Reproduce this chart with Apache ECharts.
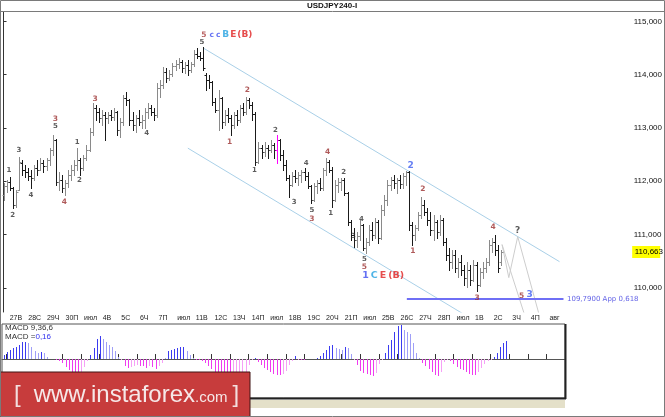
<!DOCTYPE html>
<html><head><meta charset="utf-8">
<script src="https://cdn.jsdelivr.net/npm/echarts@6/dist/echarts.min.js"></script>
<style>html,body{margin:0;padding:0;background:#fff}#c{width:665px;height:417px}</style>
</head><body><div id="c"></div>
<script>
// ---------- data ----------
const chartTitle = 'USDJPY240-I';
const dayLabels = ['27В','28С','29Ч','30П','июл','4В','5С','6Ч','7П','июл','11В','12С','13Ч','14П','июл','18В','19С','20Ч','21П','июл','25В','26С','27Ч','28П','июл','1В','2С','3Ч','4П','авг','8В'];
const priceTicks = [110, 111, 112, 113, 114, 115];
const lastPrice = 110.663;
// [open, close, low, high] per 4h bar
const bars = [
[111.74,111.91,111.65,111.97],[111.91,111.99,111.80,112.02],[111.99,111.87,111.84,112.08],[111.87,111.55,111.50,111.89],
[111.55,111.80,111.52,111.84],[111.84,112.36,111.84,112.45],[112.34,112.21,112.12,112.40],[112.21,112.17,112.08,112.30],
[112.17,112.10,112.02,112.25],[112.10,112.06,111.87,112.21],[112.06,112.25,112.02,112.30],[112.25,112.21,112.12,112.40],
[112.21,112.34,112.21,112.43],[112.34,112.29,112.17,112.40],[112.29,112.40,112.21,112.43],[112.40,112.58,112.30,112.62],
[112.58,112.77,112.49,112.87],[112.77,111.99,111.93,112.79],[111.99,112.02,111.84,112.17],[112.02,111.87,111.80,112.12],
[111.87,111.97,111.74,112.02],[111.97,112.12,111.89,112.21],[112.12,112.21,112.02,112.30],[112.21,112.30,112.12,112.40],
[112.30,112.40,112.21,112.62],[112.40,112.25,112.12,112.43],[112.25,112.43,112.21,112.49],[112.43,112.58,112.40,112.68],
[112.58,112.92,112.56,113.00],[112.92,113.37,112.87,113.47],[113.37,113.30,113.15,113.43],[113.30,113.18,113.11,113.37],
[113.18,113.24,113.05,113.33],[113.24,113.18,112.77,113.30],[113.18,113.24,113.09,113.30],[113.24,113.20,113.15,113.33],
[113.20,113.30,113.15,113.37],[113.30,112.96,112.87,113.32],[112.96,113.11,112.83,113.18],[113.11,113.56,113.05,113.61],
[113.56,113.52,113.43,113.67],[113.52,113.15,113.05,113.54],[113.15,113.05,112.96,113.30],[113.05,113.18,112.92,113.24],
[113.18,113.11,113.05,113.33],[113.11,113.15,113.00,113.24],[113.15,113.30,113.00,113.37],[113.30,113.37,113.18,113.47],
[113.37,113.30,113.24,113.43],[113.30,113.24,113.15,113.37],[113.24,113.75,113.20,113.84],[113.75,113.80,113.58,113.90],
[113.80,114.05,113.75,114.14],[114.05,113.93,113.86,114.12],[113.93,114.01,113.90,114.08],[114.01,114.16,113.97,114.21],
[114.16,114.20,114.08,114.27],[114.20,114.23,114.12,114.31],[114.23,114.12,114.05,114.27],[114.12,114.18,114.03,114.23],
[114.18,114.08,113.99,114.27],[114.08,114.20,114.05,114.23],[114.20,114.38,114.16,114.46],[114.38,114.35,114.31,114.50],
[114.35,114.31,114.27,114.42],[114.31,114.12,114.08,114.51],[113.99,113.90,113.71,114.03],[113.90,113.86,113.75,113.99],
[113.86,113.48,113.43,113.88],[113.48,113.33,113.30,113.56],[113.33,113.56,112.96,113.71],[113.56,113.11,113.00,113.58],
[113.11,113.24,113.05,113.33],[113.24,113.18,113.11,113.37],[113.18,113.05,112.87,113.24],[113.05,113.24,113.00,113.30],
[113.24,113.15,113.05,113.33],[113.15,113.37,113.11,113.43],[113.37,113.30,113.24,113.47],[113.30,113.52,113.26,113.58],
[113.52,113.43,113.37,113.56],[113.43,113.26,113.15,113.48],[113.26,112.36,112.30,113.30],[112.36,112.62,112.34,112.73],
[112.62,112.55,112.43,112.68],[112.55,112.62,112.47,112.73],[112.62,112.58,112.43,112.68],[112.58,112.68,112.55,112.77],
[112.68,112.58,112.43,112.72],[112.58,112.77,112.34,112.87],[112.77,112.49,112.40,112.79],[112.49,112.30,112.21,112.58],
[112.30,112.06,112.02,112.40],[112.06,111.93,111.70,112.12],[111.93,112.10,111.91,112.17],[112.10,112.06,111.99,112.21],
[112.06,112.12,111.93,112.17],[112.12,112.17,111.99,112.21],[112.17,112.10,112.02,112.25],[112.10,111.91,111.87,112.17],
[111.91,111.65,111.59,111.93],[111.65,111.91,111.63,111.97],[111.91,111.97,111.78,112.02],[111.97,111.87,111.84,112.06],
[111.87,112.21,111.84,112.25],[112.21,112.36,112.12,112.43],[112.36,112.21,112.17,112.40],[112.21,111.65,111.52,112.27],
[111.65,111.93,111.63,112.02],[111.93,111.99,111.80,112.06],[111.99,112.02,111.84,112.06],[112.02,111.78,111.74,112.06],
[111.78,111.24,111.18,111.80],[111.24,110.99,110.90,111.27],[110.99,110.90,110.77,111.12],[110.90,110.97,110.77,111.05],
[110.97,111.18,110.90,111.27],[111.18,110.75,110.71,111.20],[110.75,110.86,110.66,110.94],[110.86,111.09,110.81,111.18],
[111.09,110.99,110.90,111.24],[110.99,111.24,110.94,111.31],[111.24,110.94,110.84,111.27],[110.94,111.46,110.92,111.55],
[111.46,111.65,111.37,111.74],[111.65,111.93,111.55,112.02],[111.93,112.02,111.84,112.08],[112.02,111.97,111.87,112.12],
[111.97,112.02,111.78,112.06],[112.02,111.95,111.87,112.12],[111.95,112.10,111.87,112.15],[112.10,112.17,111.93,112.19],
[112.17,111.18,111.09,112.19],[111.18,110.99,110.81,111.24],[110.99,111.12,110.90,111.18],[111.12,111.37,111.09,111.42],
[111.37,111.55,111.31,111.70],[111.55,111.42,111.37,111.65],[111.42,111.27,111.18,111.50],[111.27,111.09,110.99,111.42],
[111.09,111.24,110.90,111.37],[111.24,111.05,110.94,111.27],[111.05,111.27,110.99,111.37],[111.27,110.86,110.81,111.31],
[110.86,110.62,110.52,110.94],[110.62,110.49,110.34,110.75],[110.49,110.62,110.37,110.71],[110.62,110.37,110.30,110.71],
[110.37,110.49,110.21,110.56],[110.49,110.34,110.24,110.62],[110.34,110.19,110.06,110.43],[110.19,110.34,110.02,110.49],
[110.34,110.15,110.06,110.43],[110.15,110.43,110.13,110.52],[110.43,110.06,109.93,110.49],[110.06,110.30,110.04,110.37],
[110.30,110.37,110.19,110.49],[110.37,110.49,110.30,110.56],[110.49,110.81,110.43,110.90],[110.81,110.86,110.67,110.94],
[110.86,110.71,110.62,110.99],[110.71,110.37,110.30,110.81],[110.49,110.663,110.43,110.71]
];
const markedBar = 89;
const macd = [
0.036,0.062,0.080,0.098,0.107,0.125,0.151,0.151,0.142,0.107,0.071,0.053,0.062,0.053,0.018,0.004,0.003,-0.006,-0.018,-0.036,
-0.071,-0.098,-0.116,-0.134,-0.142,-0.125,-0.071,-0.018,0.036,0.098,0.178,0.205,0.178,0.151,0.125,0.107,0.071,0.018,-0.009,-0.062,
-0.080,-0.071,-0.062,-0.053,-0.062,-0.062,-0.080,-0.062,-0.071,-0.089,-0.062,-0.036,0.009,0.071,0.080,0.089,0.098,0.107,0.107,0.071,
0.036,0.009,-0.009,-0.009,-0.018,-0.036,-0.062,-0.089,-0.116,-0.134,-0.151,-0.160,-0.169,-0.169,-0.160,-0.151,-0.142,-0.125,-0.116,-0.053,
-0.009,0.009,-0.027,-0.053,-0.080,-0.098,-0.116,-0.134,-0.142,-0.142,-0.134,-0.107,-0.053,-0.018,0.027,-0.009,-0.009,-0.009,-0.004,-0.004,
-0.004,0.009,0.027,0.053,0.080,0.116,0.125,0.098,0.089,0.080,0.107,0.098,0.045,-0.009,-0.053,-0.107,-0.125,-0.134,-0.142,-0.151,
-0.125,-0.045,-0.009,0.053,0.125,0.169,0.240,0.294,0.303,0.258,0.240,0.223,0.142,0.053,0.009,-0.036,-0.062,-0.089,-0.116,-0.142,
-0.151,-0.116,-0.027,-0.009,-0.018,-0.045,-0.071,-0.089,-0.098,-0.116,-0.134,-0.142,-0.142,-0.116,-0.080,-0.045,-0.018,-0.009,0.018,0.053,
0.107,0.142,0.160
];
const macdTitle = 'MACD 9,36,6';
const macdCaption = 'MACD =';
const macdLastText = '0,16';
const upperChannel = [[65, 114.50], [181, 110.49]];
const lowerChannel = [[60, 112.62], [155.7, 109.30]];
const projectionA = [[162.3, 110.81], [164.5, 110.19], [167.4, 110.96], [175.3, 109.30]];
const projectionB = [[162.3, 110.81], [170.7, 109.30]];
const targetLevel = [[131.3, 109.79], [182.3, 109.79]];
const targetText = '109,7900 App 0,618';
const darkLabels = [[1.75,112.20,'1'],[3,111.37,'2'],[5,112.59,'3'],[8.9,111.74,'4'],[16.9,113.04,'5'],[24,112.74,'1'],
  [24.7,112.01,'2'],[46.6,112.91,'4'],[64.6,114.60,'5'],[81.7,112.21,'1'],[88.5,112.96,'2'],[94.6,111.61,'3'],
  [98.5,112.33,'4'],[100.4,111.46,'5'],[106.5,111.39,'1'],[110.7,112.16,'2'],[113.9,110.96,'3'],[116.5,111.29,'4'],
  [117.5,110.54,'5']];
const questionMark = [[167.4, 111.07, '?']];
const redLabels = [[16.9,113.17,'3'],[19.8,111.61,'4'],[29.8,113.55,'3'],[73.6,112.74,'1'],[79.4,113.71,'2'],
  [100.4,111.29,'3'],[105.5,112.55,'4'],[117.5,110.39,'5'],[133.3,110.68,'1'],[136.5,111.86,'2'],[154.2,109.81,'3'],
  [159.4,111.14,'4'],[168.7,109.85,'5']];
const blueLabels = [[132.5,112.29,'2'],[171.3,109.87,'3']];
const topTag = [64.2, 114.75];
const bottomTag = [116.6, 110.23];
const bannerText = ['[', 'www.instaforex', '.com', ']'];

// ---------- layout ----------
const SLOTS = 205;
const MAIN = {left: 2, top: 12, width: 636, height: 300};
const SUB = {left: 2, top: 324, width: 563, height: 74};
const subMax = -0.5 + SUB.width * SLOTS / MAIN.width;
const fmt3 = v => v.toFixed(3).replace('.', ',');
const HIDDEN = 'rgba(0,0,0,0)';

const chart = echarts.init(document.getElementById('c'), null, {renderer: 'canvas'});

function barItem(params, api) {
  const k = api.value(0), o = api.value(1), c = api.value(2), l = api.value(3), h = api.value(4);
  const pH = api.coord([k, h]), pL = api.coord([k, l]), pO = api.coord([k, o]), pC = api.coord([k, c]);
  const x = Math.round(pH[0]) + 0.5;
  const col = params.dataIndex === markedBar ? '#ff00ff' : (c >= o ? '#8a8a8a' : '#1a1a1a');
  const yo = Math.round(pO[1]) + 0.5, yc = Math.round(pC[1]) + 0.5;
  const st = {stroke: col, lineWidth: 1};
  return {type: 'group', children: [
    {type: 'line', shape: {x1: x, y1: Math.round(pH[1]), x2: x, y2: Math.round(pL[1]) + 1}, style: st},
    {type: 'line', shape: {x1: x - 2, y1: yo, x2: x, y2: yo}, style: st},
    {type: 'line', shape: {x1: x, y1: yc, x2: x + 2, y2: yc}, style: st}
  ]};
}

function macdItem(params, api) {
  const k = api.value(0), v = api.value(1), i = params.dataIndex;
  const prev = i > 0 ? macd[i - 1] : 0;
  const growing = Math.abs(v) >= Math.abs(prev);
  let col;
  if (v >= 0) col = growing ? '#3b3bf0' : '#9f9ff7';
  else col = growing ? '#f03bf0' : '#f6a0f6';
  const p0 = api.coord([k, 0]), p1 = api.coord([k, v]);
  const x = Math.round(p0[0]) + 0.5;
  return {type: 'line', shape: {x1: x, y1: Math.round(p0[1]), x2: x, y2: Math.round(p1[1])}, style: {stroke: col, lineWidth: 1}};
}

function priceBox(params, api) {
  const p = api.coord([api.value(0), api.value(1)]);
  return {type: 'group', children: [
    {type: 'rect', shape: {x: p[0] + 0.5, y: Math.round(p[1]) - 6, width: 28, height: 12}, style: {fill: '#ffff00'}},
    {type: 'text', style: {text: fmt3(api.value(1)), x: p[0] + 3, y: Math.round(p[1]), verticalAlign: 'middle', align: 'left',
      font: '8px "Liberation Sans"', fill: '#000'}}
  ]};
}

function labelSeries(list, color, size) {
  return {
    type: 'scatter', xAxisIndex: 0, yAxisIndex: 0, symbolSize: 1, itemStyle: {color: HIDDEN}, silent: true, z: 6,
    data: list.map(d => ({value: [d[0], d[1]], name: d[2]})),
    label: {show: true, position: 'inside', formatter: p => p.name, color: color, fontSize: size,
      fontWeight: 'bold', fontFamily: 'DejaVu Sans'}
  };
}
function lineSeries(pts, color, width) {
  return {type: 'line', xAxisIndex: 0, yAxisIndex: 0, data: pts, showSymbol: false, silent: true, clip: true,
    lineStyle: {color: color, width: width}, z: 1};
}

const dayTicks = dayLabels.map((_, d) => 1 + 6 * d);
const tagFont = (color, size) => ({color: color, fontSize: size, fontWeight: 'bold', fontFamily: 'DejaVu Sans'});

const option = {
  animation: false,
  backgroundColor: '#ffffff',
  grid: [
    {left: MAIN.left, top: MAIN.top, width: MAIN.width, height: MAIN.height, show: false},
    {left: SUB.left, top: SUB.top, width: SUB.width, height: SUB.height, show: true, borderColor: '#555', borderWidth: 1, backgroundColor: '#fff'}
  ],
  xAxis: [
    {type: 'value', gridIndex: 0, min: -0.5, max: SLOTS - 0.5, show: false},
    {type: 'value', gridIndex: 1, position: 'top', min: -0.5, max: subMax,
      axisLine: {show: true, lineStyle: {color: '#555'}},
      axisTick: {show: true, customValues: dayTicks, length: 5, lineStyle: {color: '#333'}},
      axisLabel: {show: true, customValues: dayTicks, formatter: v => dayLabels[Math.round((v - 1) / 6)] || '',
        fontSize: 7, fontFamily: 'Liberation Sans', color: '#222', align: 'left', padding: [0, 0, 0, 3], margin: 2},
      splitLine: {show: false}}
  ],
  yAxis: [
    {type: 'value', gridIndex: 0, position: 'right', min: 109.545, max: 115.175, scale: true,
      axisLine: {show: true, lineStyle: {color: '#333'}},
      axisTick: {show: true, customValues: priceTicks, length: 3, lineStyle: {color: '#333'}},
      axisLabel: {show: true, customValues: priceTicks, formatter: fmt3, fontSize: 8, fontFamily: 'Liberation Sans', color: '#111', margin: 2},
      splitLine: {show: false}},
    {type: 'value', gridIndex: 1, min: -0.347, max: 0.312, show: false, splitLine: {show: false}}
  ],
  series: [
    lineSeries(upperChannel, '#a9d0e8', 1),
    lineSeries(lowerChannel, '#a9d0e8', 1),
    lineSeries(projectionA, '#cdcdcd', 1),
    lineSeries(projectionB, '#cdcdcd', 1),
    Object.assign(lineSeries(targetLevel, '#6f6ff5', 2), {clip: false}),
    {type: 'custom', xAxisIndex: 0, yAxisIndex: 0, renderItem: barItem, z: 3,
      data: bars.map((b, i) => [i, b[0], b[1], b[2], b[3]]), encode: {x: 0, y: [1, 2, 3, 4]}, silent: true},
    labelSeries(darkLabels, '#333333', 7),
    labelSeries(questionMark, '#333333', 9),
    labelSeries(redLabels, '#9b3030', 7.5),
    labelSeries(blueLabels, '#3d5ef0', 9),
    {type: 'scatter', xAxisIndex: 0, yAxisIndex: 0, symbolSize: 1, itemStyle: {color: HIDDEN}, silent: true, z: 6,
      data: [{value: topTag}],
      label: {show: true, position: 'right', distance: 0, formatter: '{a|5}{b|c}{b|c}{c|B}{d|E}{e|(B)}',
        rich: {a: Object.assign(tagFont('#a83a3a', 7.5), {padding: [0, 3, 0, 0]}),
               b: Object.assign(tagFont('#3d4ef0', 7.5), {padding: [0, 2, 0, 0]}),
               c: Object.assign(tagFont('#22a0e0', 9), {padding: [0, 1, 0, 0]}),
               d: Object.assign(tagFont('#e02020', 9), {padding: [0, 1, 0, 0]}),
               e: tagFont('#e02020', 9)}}},
    {type: 'scatter', xAxisIndex: 0, yAxisIndex: 0, symbolSize: 1, itemStyle: {color: HIDDEN}, silent: true, z: 6,
      data: [{value: bottomTag}],
      label: {show: true, position: 'right', distance: 0, formatter: '{b|1}{c|C}{d|E}{e|(B)}',
        rich: {b: Object.assign(tagFont('#3d4ef0', 9.5), {padding: [0, 2, 0, 0]}),
               c: Object.assign(tagFont('#22a0e0', 9.5), {padding: [0, 2, 0, 0]}),
               d: Object.assign(tagFont('#e02020', 9.5), {padding: [0, 2, 0, 0]}),
               e: tagFont('#e02020', 9.5)}}},
    {type: 'scatter', xAxisIndex: 0, yAxisIndex: 0, symbolSize: 1, itemStyle: {color: HIDDEN}, silent: true, z: 6,
      data: [{value: targetLevel[1]}],
      label: {show: true, position: 'right', distance: 3, formatter: targetText, color: '#3a3ae0', fontSize: 7, fontFamily: 'DejaVu Sans'}},
    {type: 'custom', xAxisIndex: 0, yAxisIndex: 0, renderItem: priceBox, clip: false, z: 10, silent: true,
      data: [[SLOTS - 0.5, lastPrice]]},
    lineSeries([[-0.5, 0], [subMax, 0]], '#d0d0d0', 1),
    {type: 'custom', xAxisIndex: 1, yAxisIndex: 1, renderItem: macdItem, z: 3, silent: true,
      data: macd.map((v, i) => [i, v]), encode: {x: 0, y: 1}}
  ],
  graphic: [
    {type: 'rect', shape: {x: 566, y: 313, width: 98, height: 102}, style: {fill: '#ffffff'}, z: 50},
    {type: 'line', shape: {x1: 565.5, y1: 324, x2: 565.5, y2: 399}, style: {stroke: '#222', lineWidth: 2}, z: 51},
    {type: 'line', shape: {x1: 2, y1: 398.5, x2: 566, y2: 398.5}, style: {stroke: '#222', lineWidth: 2}, z: 51},
    {type: 'rect', shape: {x: 1, y: 400, width: 564, height: 8}, style: {fill: '#e4e0c9'}, z: 51},
    {type: 'text', style: {text: macdTitle, x: 5, y: 328, verticalAlign: 'middle', font: '8px "Liberation Sans"', fill: '#333'}, z: 52},
    {type: 'text', style: {text: '{a|' + macdCaption + '}{b|' + macdLastText + '}', x: 5, y: 337, verticalAlign: 'middle',
      rich: {a: {fontSize: 8, fontFamily: 'Liberation Sans', fill: '#333'}, b: {fontSize: 8, fontFamily: 'Liberation Sans', fill: '#3030ee'}}}, z: 52},
    {type: 'rect', shape: {x: 0, y: 372, width: 250, height: 45}, style: {fill: '#c73c3c', stroke: '#401515', lineWidth: 1}, z: 60},
    {type: 'text', style: {
      text: '{a|' + bannerText[0] + '}{b|' + bannerText[1] + '}{c|' + bannerText[2] + '}{d|' + bannerText[3] + '}',
      x: 14, y: 395, verticalAlign: 'middle',
      rich: {a: {fontSize: 24, fontFamily: 'Liberation Sans', fill: '#f3dede', padding: [0, 13, 0, 0]},
             b: {fontSize: 24, fontFamily: 'Liberation Sans', fill: '#f6e8e8'},
             c: {fontSize: 15, fontFamily: 'Liberation Sans', fill: '#f6e8e8', padding: [6, 0, 0, 0]},
             d: {fontSize: 24, fontFamily: 'Liberation Sans', fill: '#f3dede', padding: [0, 0, 0, 5]}}}, z: 61},
    {type: 'line', shape: {x1: 0, y1: 11.5, x2: 665, y2: 11.5}, style: {stroke: '#7a7a7a', lineWidth: 1}, z: 70},
    {type: 'text', style: {text: chartTitle, x: 332, y: 6, align: 'center', verticalAlign: 'middle', font: 'bold 8px "Liberation Sans"', fill: '#111'}, z: 70},
    {type: 'rect', shape: {x: 0.5, y: 0.5, width: 664, height: 416}, style: {fill: null, stroke: '#7a7a7a', lineWidth: 1}, z: 70}
  ]
};
chart.setOption(option);
</script>
</body></html>
